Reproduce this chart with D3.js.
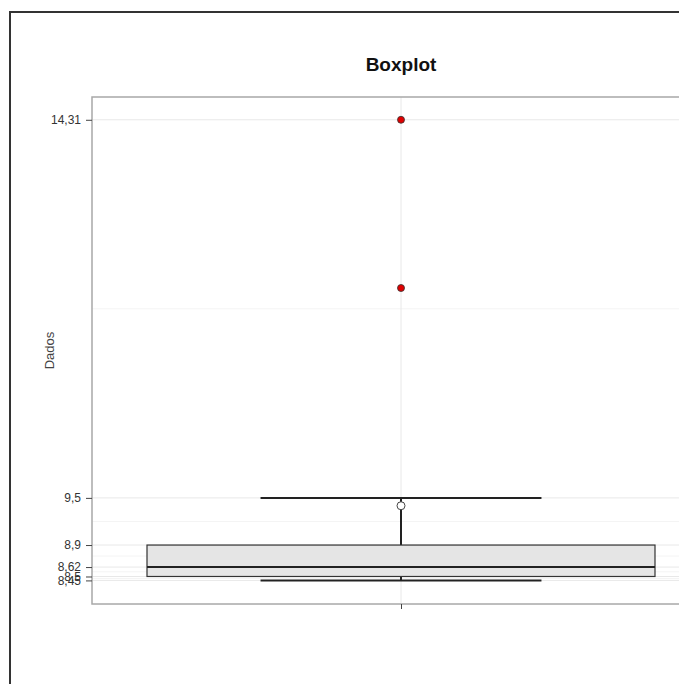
<!DOCTYPE html>
<html>
<head>
<meta charset="utf-8">
<script src="https://cdn.jsdelivr.net/npm/d3@7"></script>
<style>
  body { margin: 0; background: #fff; }
  svg { display: block; font-family: "Liberation Sans", Arial, sans-serif; }
</style>
</head>
<body>
<div id="chart"></div>
<script>
// values
const categories = ["Dados"];
const tickValues = [8.45, 8.5, 8.62, 8.9, 9.5, 14.31];
const tickLabels = ["8,45", "8,5", "8,62", "8,9", "9,5", "14,31"];
const whiskerLow = [8.45];
const q1 = [8.5];
const median = [8.62];
const q3 = [8.9];
const whiskerHigh = [9.5];
const means = [9.4];
const outliers = [12.17, 14.31];

const W = 679, H = 684;
const panel = { left: 92, top: 97, right: 710, bottom: 604 };

const svg = d3.select("#chart")
  .append("svg")
  .attr("width", W)
  .attr("height", H);

// outer frame (runs off the right and bottom edge)
svg.append("rect")
  .attr("x", 10)
  .attr("y", 12)
  .attr("width", 720)
  .attr("height", 720)
  .attr("fill", "#fff")
  .attr("stroke", "#333")
  .attr("stroke-width", 2);

const y = d3.scaleLinear()
  .domain([8.15, 14.60])
  .range([panel.bottom, panel.top]);

const x = d3.scalePoint()
  .domain(categories)
  .range([panel.left, panel.right])
  .padding(0.5);

const panelW = panel.right - panel.left;
const boxW = panelW * 0.822;
const whiskW = boxW * 0.553;

// minor grid: midpoints between breaks
const minor = d3.pairs(tickValues).map(([a, b]) => (a + b) / 2);
svg.append("g")
  .selectAll("line")
  .data(minor)
  .join("line")
  .attr("x1", panel.left)
  .attr("x2", panel.right)
  .attr("y1", d => y(d))
  .attr("y2", d => y(d))
  .attr("stroke", "#f4f4f4")
  .attr("stroke-width", 1);

// major grid
svg.append("g")
  .selectAll("line")
  .data(tickValues)
  .join("line")
  .attr("x1", panel.left)
  .attr("x2", panel.right)
  .attr("y1", d => y(d))
  .attr("y2", d => y(d))
  .attr("stroke", "#e8e8e8")
  .attr("stroke-width", 1);

svg.append("line")
  .attr("x1", x(categories[0]))
  .attr("x2", x(categories[0]))
  .attr("y1", panel.top)
  .attr("y2", panel.bottom)
  .attr("stroke", "#e8e8e8");

// box
categories.forEach((c, i) => {
  const cx = x(c);
  const g = svg.append("g");

  g.append("line")
    .attr("x1", cx).attr("x2", cx)
    .attr("y1", y(q3[i])).attr("y2", y(whiskerHigh[i]))
    .attr("stroke", "#222").attr("stroke-width", 2);

  g.append("line")
    .attr("x1", cx).attr("x2", cx)
    .attr("y1", y(q1[i])).attr("y2", y(whiskerLow[i]))
    .attr("stroke", "#222").attr("stroke-width", 2);

  g.selectAll(".whisk")
    .data([whiskerHigh[i], whiskerLow[i]])
    .join("line")
    .attr("x1", cx - whiskW / 2).attr("x2", cx + whiskW / 2)
    .attr("y1", d => y(d)).attr("y2", d => y(d))
    .attr("stroke", "#222").attr("stroke-width", 2);

  g.append("rect")
    .attr("x", cx - boxW / 2)
    .attr("y", y(q3[i]))
    .attr("width", boxW)
    .attr("height", y(q1[i]) - y(q3[i]))
    .attr("fill", "#e5e5e5")
    .attr("stroke", "#333")
    .attr("stroke-width", 1.2);

  g.append("line")
    .attr("x1", cx - boxW / 2).attr("x2", cx + boxW / 2)
    .attr("y1", y(median[i])).attr("y2", y(median[i]))
    .attr("stroke", "#222").attr("stroke-width", 2);

  g.selectAll(".out")
    .data(outliers)
    .join("circle")
    .attr("cx", cx)
    .attr("cy", d => y(d))
    .attr("r", 3.5)
    .attr("fill", "#e00000")
    .attr("stroke", "#333")
    .attr("stroke-width", 0.8);

  g.append("circle")
    .attr("cx", cx)
    .attr("cy", y(means[i]))
    .attr("r", 4)
    .attr("fill", "#fff")
    .attr("stroke", "#444")
    .attr("stroke-width", 1);
});

// panel border
svg.append("rect")
  .attr("x", panel.left)
  .attr("y", panel.top)
  .attr("width", panelW)
  .attr("height", panel.bottom - panel.top)
  .attr("fill", "none")
  .attr("stroke", "#a8a8a8")
  .attr("stroke-width", 1.5);

// y axis
const yAxis = svg.append("g")
  .attr("transform", `translate(${panel.left},0)`)
  .call(d3.axisLeft(y)
    .tickValues(tickValues)
    .tickFormat((d, i) => tickLabels[i])
    .tickSize(6)
    .tickPadding(5));
yAxis.select(".domain").remove();
yAxis.selectAll(".tick line").attr("stroke", "#444");
yAxis.selectAll(".tick text")
  .attr("fill", "#333")
  .style("font-size", "12px");

// x axis (no label)
const xAxis = svg.append("g")
  .attr("transform", `translate(0,${panel.bottom})`)
  .call(d3.axisBottom(x).tickSize(5).tickFormat(""));
xAxis.select(".domain").remove();
xAxis.selectAll(".tick line").attr("stroke", "#444");

svg.append("text")
  .attr("transform", `translate(54,${(panel.top + panel.bottom) / 2}) rotate(-90)`)
  .attr("text-anchor", "middle")
  .style("font-size", "13px")
  .attr("fill", "#444")
  .text("Dados");

svg.append("text")
  .attr("x", x(categories[0]))
  .attr("y", 71)
  .attr("text-anchor", "middle")
  .style("font-size", "19px")
  .style("font-weight", "bold")
  .attr("fill", "#111")
  .text("Boxplot");
</script>
</body>
</html>
